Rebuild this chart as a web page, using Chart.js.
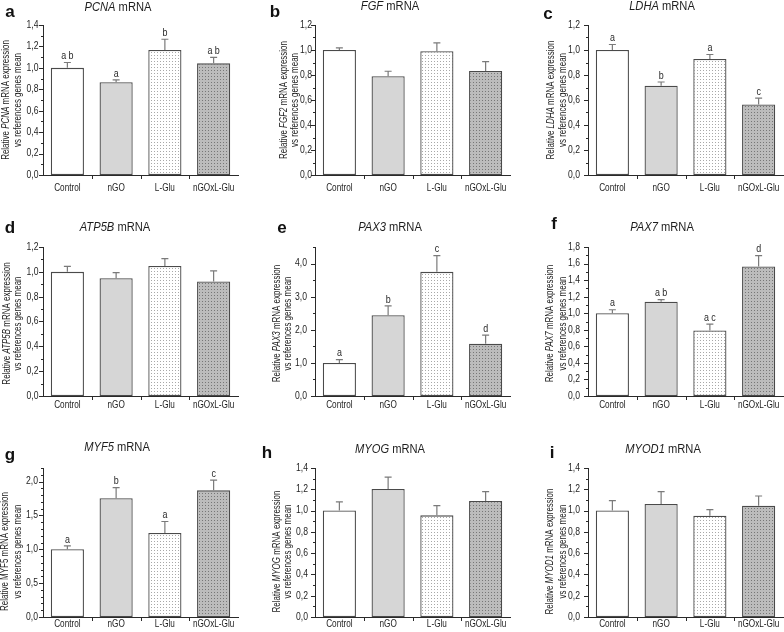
<!DOCTYPE html>
<html>
<head>
<meta charset="utf-8">
<script src="https://cdn.jsdelivr.net/npm/chart.js@4.4.1/dist/chart.umd.min.js"></script>
<style>
  html, body { margin: 0; padding: 0; background: #fff; }
  #wrap { position: relative; width: 784px; height: 632px; overflow: hidden; }
  #wrap canvas { position: absolute; }
</style>
</head>
<body>
<div id="wrap"></div>
<script>
// groups on the x axis
const groups = ['Control', 'nGO', 'L-Glu', 'nGOxL-Glu'];

// mean and upper SEM per gene, letters of significance
const pcnaMean = [1.00, 0.865, 1.167, 1.042];
const pcnaSem  = [0.05, 0.022, 0.10, 0.056];
const pcnaSig  = ['a b', 'a', 'b', 'a b'];

const fgfMean = [1.00, 0.79, 0.99, 0.832];
const fgfSem  = [0.017, 0.04, 0.067, 0.075];

const ldhaMean = [1.00, 0.714, 0.929, 0.564];
const ldhaSem  = [0.044, 0.03, 0.035, 0.051];
const ldhaSig  = ['a', 'b', 'a', 'c'];

const atp5bMean = [1.00, 0.948, 1.047, 0.923];
const atp5bSem  = [0.044, 0.045, 0.059, 0.084];

const pax3Mean = [1.00, 2.44, 3.75, 1.58];
const pax3Sem  = [0.10, 0.28, 0.49, 0.26];
const pax3Sig  = ['a', 'b', 'c', 'd'];

const pax7Mean = [1.00, 1.14, 0.792, 1.564];
const pax7Sem  = [0.042, 0.025, 0.076, 0.132];
const pax7Sig  = ['a', 'a b', 'a c', 'd'];

const myf5Mean = [1.00, 1.753, 1.24, 1.87];
const myf5Sem  = [0.05, 0.157, 0.17, 0.15];
const myf5Sig  = ['a', 'b', 'a', 'c'];

const myogMean = [1.00, 1.203, 0.955, 1.09];
const myogSem  = [0.081, 0.112, 0.091, 0.088];

const myod1Mean = [1.00, 1.062, 0.952, 1.046];
const myod1Sem  = [0.093, 0.116, 0.056, 0.091];

// y tick labels
const ticks12 = [0, 0.2, 0.4, 0.6, 0.8, 1.0, 1.2];
const ticks14 = [0, 0.2, 0.4, 0.6, 0.8, 1.0, 1.2, 1.4];
const ticks18 = [0, 0.2, 0.4, 0.6, 0.8, 1.0, 1.2, 1.4, 1.6, 1.8];
const ticksPax3 = [0, 1, 2, 3, 4];
const ticksMyf5 = [0, 0.5, 1.0, 1.5, 2.0];

const panels = [
  { letter: 'a', gene: 'PCNA',  axisGene: 'PCNA',  mean: pcnaMean,  sem: pcnaSem,  sig: pcnaSig, max: 1.4, ticks: ticks14,   minor: 0.1 },
  { letter: 'b', gene: 'FGF',   axisGene: 'FGF2',  mean: fgfMean,   sem: fgfSem,   sig: null,    max: 1.2, ticks: ticks12,   minor: 0.1 },
  { letter: 'c', gene: 'LDHA',  axisGene: 'LDHA',  mean: ldhaMean,  sem: ldhaSem,  sig: ldhaSig, max: 1.2, ticks: ticks12,   minor: 0.1 },
  { letter: 'd', gene: 'ATP5B', axisGene: 'ATP5B', mean: atp5bMean, sem: atp5bSem, sig: null,    max: 1.2, ticks: ticks12,   minor: 0.1 },
  { letter: 'e', gene: 'PAX3',  axisGene: 'PAX3',  mean: pax3Mean,  sem: pax3Sem,  sig: pax3Sig, max: 4.5, ticks: ticksPax3, minor: 0.5 },
  { letter: 'f', gene: 'PAX7',  axisGene: 'PAX7',  mean: pax7Mean,  sem: pax7Sem,  sig: pax7Sig, max: 1.8, ticks: ticks18,   minor: 0.1 },
  { letter: 'g', gene: 'MYF5',  axisGene: 'MYF5',  mean: myf5Mean,  sem: myf5Sem,  sig: myf5Sig, max: 2.2, ticks: ticksMyf5, minor: 0.1 },
  { letter: 'h', gene: 'MYOG',  axisGene: 'MYOG',  mean: myogMean,  sem: myogSem,  sig: null,    max: 1.4, ticks: ticks14,   minor: 0.1 },
  { letter: 'i', gene: 'MYOD1', axisGene: 'MYOD1', mean: myod1Mean, sem: myod1Sem, sig: null,    max: 1.4, ticks: ticks14,   minor: 0.1 }
];

// page layout (absolute px)
const colBox = [[0, 262], [262, 522], [522, 784]];
const rowBox = [[0, 210], [210, 420], [420, 632]];
const plotX = [[43, 238], [315, 510], [588, 783]];
const plotY = [[25, 175], [247, 396], [468, 617]];
const xLabelGap = [7.5, 4, 1.5];
const yTitleShift = [0, 2, 9];
const yTitleX = [[6, 18], [284, 295], [551, 563], [7, 18], [277, 288], [550, 563], [5, 18], [277, 288], [550, 563]];
const tickGap = [4.5, 3, 8, 4.5, 8, 8, 5, 7, 8];
const titlePos = [[118, 8], [390, 7], [662, 7], [115, 228], [390, 228], [662, 228], [117, 448], [390, 450], [663, 450]];
const letterPos = [[10, 12], [275, 12], [548, 14], [10, 228], [282, 228], [554, 224], [10, 455], [267, 453], [552, 453]];

const SANS = "'Liberation Sans', Arial, sans-serif";
const INK = '#2a2a2a';

function fmt(v) {
  return v.toFixed(1).replace('.', ',');
}

function makePattern(bg, dot) {
  const c = document.createElement('canvas');
  c.width = 3; c.height = 3;
  const g = c.getContext('2d');
  g.fillStyle = bg;
  g.fillRect(0, 0, 3, 3);
  g.fillStyle = dot;
  g.fillRect(1, 1, 1, 1);
  return g.createPattern(c, 'repeat');
}

const fills = ['#ffffff', '#d6d6d6', makePattern('#ffffff', '#a8a8a8'), makePattern('#bcbcbc', '#777777')];

// text pieces (some italic), squeezed horizontally, anchored by align
function richText(ctx, parts, size, x, y, align, squeeze) {
  ctx.save();
  ctx.translate(x, y);
  ctx.scale(squeeze, 1);
  ctx.textAlign = 'left';
  let total = 0;
  const widths = parts.map(p => {
    ctx.font = (p.i ? 'italic ' : '') + size + 'px ' + SANS;
    const w = ctx.measureText(p.t).width;
    total += w;
    return w;
  });
  let cx = align === 'center' ? -total / 2 : align === 'right' ? -total : 0;
  parts.forEach((p, k) => {
    ctx.font = (p.i ? 'italic ' : '') + size + 'px ' + SANS;
    ctx.fillText(p.t, cx, 0);
    cx += widths[k];
  });
  ctx.restore();
}

const panelPlugin = {
  id: 'panelExtras',
  afterDatasetsDraw(chart, args, opts) {
    const { ctx, scales: { y } } = chart;
    const p = opts.panel;
    const meta = chart.getDatasetMeta(0);
    ctx.save();
    ctx.strokeStyle = '#7a7a7a';
    ctx.lineWidth = 1.2;
    meta.data.forEach((bar, i) => {
      const top = y.getPixelForValue(p.mean[i] + p.sem[i]);
      ctx.beginPath();
      ctx.moveTo(bar.x, bar.y);
      ctx.lineTo(bar.x, top);
      ctx.moveTo(bar.x - 3.5, top);
      ctx.lineTo(bar.x + 3.5, top);
      ctx.stroke();
      if (p.sig) {
        ctx.fillStyle = INK;
        ctx.textBaseline = 'bottom';
        richText(ctx, [{ t: p.sig[i] }], 10.5, bar.x, top - 1, 'center', 0.85);
      }
    });
    ctx.restore();
  },
  afterDraw(chart, args, opts) {
    const { ctx, scales: { x, y }, chartArea } = chart;
    const p = opts.panel;
    const L = opts.layout;
    ctx.save();
    ctx.strokeStyle = INK;
    ctx.lineWidth = 1;
    // y ticks, major and minor
    const n = Math.round(p.max / p.minor);
    for (let k = 0; k <= n; k++) {
      const v = k * p.minor;
      const isMajor = p.ticks.some(t => Math.abs(t - v) < 1e-6);
      const py = Math.round(y.getPixelForValue(v)) + 0.5;
      ctx.beginPath();
      ctx.moveTo(chartArea.left, py);
      ctx.lineTo(chartArea.left - (isMajor ? 4 : 2), py);
      ctx.stroke();
    }
    // x ticks between groups
    for (let k = 0; k < groups.length - 1; k++) {
      const px = Math.round(x.getPixelForValue(k + 0.5)) + 0.5;
      ctx.beginPath();
      ctx.moveTo(px, chartArea.bottom);
      ctx.lineTo(px, chartArea.bottom + 4);
      ctx.stroke();
    }
    ctx.fillStyle = '#1e1e1e';
    // y tick labels
    ctx.textBaseline = 'middle';
    p.ticks.forEach(v => {
      richText(ctx, [{ t: fmt(v) }], 10.5, chartArea.left - L.tickGap, y.getPixelForValue(v), 'right', 0.82);
    });
    // category labels
    ctx.textBaseline = 'top';
    groups.forEach((g, i) => {
      richText(ctx, [{ t: g }], 10.5, x.getPixelForValue(i), chartArea.bottom + L.xGap, 'center', 0.78);
    });
    // y axis title, two lines
    const midY = (chartArea.top + chartArea.bottom) / 2 + L.yShift;
    ctx.textBaseline = 'middle';
    [[{ t: 'Relative ' }, { t: p.axisGene, i: p.letter !== 'g' }, { t: ' mRNA expression' }],
     [{ t: 'vs references genes mean' }]].forEach((parts, k) => {
      ctx.save();
      ctx.translate(L.yTitle[k], midY);
      ctx.rotate(-Math.PI / 2);
      richText(ctx, parts, 10.5, 0, 0, 'center', 0.76);
      ctx.restore();
    });
    // panel title
    richText(ctx, [{ t: p.gene, i: true }, { t: ' mRNA' }], 12, L.title[0], L.title[1], 'center', 0.93);
    // panel letter
    ctx.fillStyle = '#111';
    ctx.font = 'bold 17px ' + SANS;
    ctx.textAlign = 'center';
    ctx.fillText(p.letter, L.letter[0], L.letter[1]);
    ctx.restore();
  }
};

const wrap = document.getElementById('wrap');

panels.forEach((p, idx) => {
  const col = idx % 3;
  const row = Math.floor(idx / 3);
  const [cx0, cx1] = colBox[col];
  const [cy0, cy1] = rowBox[row];
  const canvas = document.createElement('canvas');
  canvas.width = cx1 - cx0;
  canvas.height = cy1 - cy0;
  canvas.style.left = cx0 + 'px';
  canvas.style.top = cy0 + 'px';
  canvas.style.width = canvas.width + 'px';
  canvas.style.height = canvas.height + 'px';
  wrap.appendChild(canvas);

  const layout = {
    yTitle: yTitleX[idx].map(v => v - cx0),
    yShift: yTitleShift[row],
    tickGap: tickGap[idx],
    xGap: xLabelGap[row],
    title: [titlePos[idx][0] - cx0, titlePos[idx][1] - cy0],
    letter: [letterPos[idx][0] - cx0, letterPos[idx][1] - cy0]
  };

  new Chart(canvas, {
    type: 'bar',
    data: {
      labels: groups,
      datasets: [{
        data: p.mean,
        backgroundColor: fills,
        borderColor: '#4a4a4a',
        borderWidth: 1.3,
        borderSkipped: false,
        barPercentage: 0.68,
        categoryPercentage: 1.0
      }]
    },
    options: {
      responsive: false,
      animation: false,
      devicePixelRatio: 1,
      layout: {
        padding: { left: 0, top: plotY[row][0] - cy0, right: cx1 - plotX[col][1], bottom: 0 }
      },
      plugins: {
        legend: { display: false },
        tooltip: { enabled: false },
        panelExtras: { panel: p, layout }
      },
      scales: {
        x: {
          grid: { display: false, drawTicks: false },
          border: { color: INK, width: 1 },
          ticks: { display: false },
          afterFit: s => { s.height = cy1 - plotY[row][1]; }
        },
        y: {
          min: 0,
          max: p.max,
          grid: { display: false, drawTicks: false },
          border: { color: INK, width: 1 },
          afterBuildTicks: s => { s.ticks = p.ticks.map(v => ({ value: v })); },
          ticks: { display: false },
          afterFit: s => { s.width = plotX[col][0] - cx0; }
        }
      }
    },
    plugins: [panelPlugin]
  });
});
</script>
</body>
</html>
